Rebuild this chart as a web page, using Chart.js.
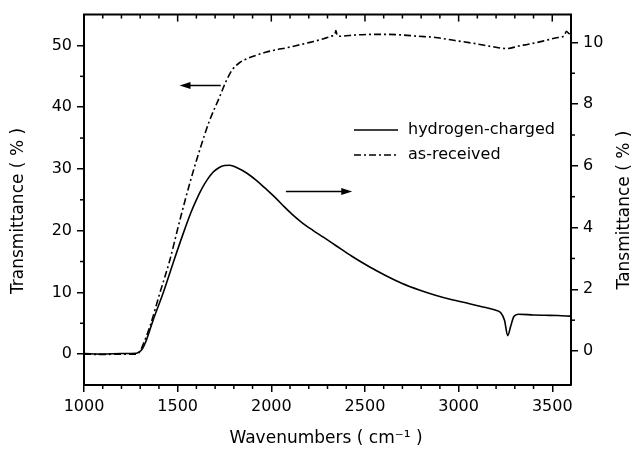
<!DOCTYPE html>
<html>
<head>
<meta charset="utf-8">
<script src="https://cdn.jsdelivr.net/npm/chart.js@4.4.1/dist/chart.umd.min.js"></script>
<style>
  html, body { margin: 0; padding: 0; background: #fff; }
</style>
</head>
<body>
<canvas id="ftirChart" width="636" height="455"></canvas>
<script>
// hydrogen-charged sample (right axis)
const hydrogenWn = [1000, 1100, 1200, 1280, 1295, 1310, 1320, 1333, 1369, 1422, 1475, 1528, 1573, 1600, 1630, 1660, 1690,
    1720, 1750, 1777, 1820, 1870, 1920, 1970, 2020, 2070, 2113, 2160, 2220, 2280, 2344, 2430, 2521, 2610, 2699,
    2790, 2876, 2960, 3053, 3130, 3195, 3225, 3245, 3262, 3278, 3295, 3319, 3400, 3461, 3530, 3600];
const hydrogenT = [-0.08, -0.1, -0.08, -0.07, -0.03, 0.06, 0.17, 0.35, 1.0, 1.87, 2.84, 3.78, 4.52, 4.90, 5.27, 5.57, 5.80,
    5.94, 6.01, 6.02, 5.93, 5.76, 5.53, 5.26, 4.98, 4.67, 4.42, 4.18, 3.92, 3.68, 3.42, 3.07, 2.74, 2.45, 2.19,
    1.98, 1.81, 1.67, 1.54, 1.43, 1.33, 1.24, 1.0, 0.5, 0.8, 1.12, 1.19, 1.17, 1.16, 1.15, 1.13];

// as-received sample (left axis)
const receivedWn = [1000, 1100, 1200, 1280, 1298, 1312, 1351, 1404, 1457, 1511, 1564, 1617, 1670, 1723, 1760, 1790,
    1830, 1880, 1918, 1970, 2025, 2078, 2150, 2220, 2280, 2320, 2340, 2345, 2352, 2370, 2450, 2540, 2620, 2699,
    2780, 2876, 2980, 3089, 3180, 3258, 3320, 3372, 3450, 3532, 3565, 3575, 3590, 3600];
const receivedT = [0, -0.05, 0, 0, 0.4, 1.3, 4.4, 9.8, 15.1, 21.6, 27.6, 33.0, 37.8, 41.6, 44.3, 46.0,
    47.2, 48.0, 48.4, 48.9, 49.3, 49.6, 50.1, 50.6, 51.1, 51.5, 51.9, 52.4, 51.6, 51.5, 51.7, 51.8, 51.8, 51.7,
    51.5, 51.3, 50.8, 50.3, 49.8, 49.5, 49.9, 50.2, 50.7, 51.3, 51.6, 52.3, 51.9, 51.7];

const xTicks = [1000, 1500, 2000, 2500, 3000, 3500];
const leftTicks = [0, 10, 20, 30, 40, 50];
const rightTicks = [0, 2, 4, 6, 8, 10];

// arrows telling which axis each curve belongs to (data units)
const leftArrow = { from: 1730, to: 1510, y: 43.5 };
const rightArrow = { from: 2078, to: 2432, y: 5.17 };

const FONT = "'DejaVu Sans', sans-serif";

function toPoints(xs, ys) {
    return xs.map((x, i) => ({ x, y: ys[i] }));
}

function drawArrow(ctx, x1, x2, y) {
    const dir = Math.sign(x2 - x1);
    ctx.beginPath();
    ctx.moveTo(x1, y);
    ctx.lineTo(x2 - dir * 8, y);
    ctx.stroke();
    ctx.beginPath();
    ctx.moveTo(x2, y);
    ctx.lineTo(x2 - dir * 11, y - 3.5);
    ctx.lineTo(x2 - dir * 11, y + 3.5);
    ctx.closePath();
    ctx.fill();
}

// frame, minor ticks, arrows, legend and axis titles
const framePlugin = {
    id: 'frame',
    afterDraw(chart) {
        const { ctx, chartArea: a, scales } = chart;
        const x = scales.x, yl = scales.y, yr = scales.y1;
        ctx.save();
        ctx.strokeStyle = '#000';
        ctx.fillStyle = '#000';

        // top frame line
        ctx.lineWidth = 2;
        ctx.beginPath();
        ctx.moveTo(a.left - 1, a.top);
        ctx.lineTo(a.right + 1, a.top);
        ctx.stroke();

        ctx.lineWidth = 1.5;
        // x ticks: minor outward at bottom, all inward at top
        for (let v = 1100; v < 3600; v += 100) {
            const px = x.getPixelForValue(v);
            const major = v % 500 === 0;
            ctx.beginPath();
            if (!major) {
                ctx.moveTo(px, a.bottom);
                ctx.lineTo(px, a.bottom + 4);
            }
            ctx.moveTo(px, a.top);
            ctx.lineTo(px, a.top + (major ? 7 : 4));
            ctx.stroke();
        }
        // left minor ticks
        for (let v = 5; v < 55; v += 10) {
            const py = yl.getPixelForValue(v);
            ctx.beginPath();
            ctx.moveTo(a.left, py);
            ctx.lineTo(a.left - 4, py);
            ctx.stroke();
        }
        // right minor ticks
        for (let v = 1; v < 11; v += 2) {
            const py = yr.getPixelForValue(v);
            ctx.beginPath();
            ctx.moveTo(a.right, py);
            ctx.lineTo(a.right + 4, py);
            ctx.stroke();
        }

        // arrows
        drawArrow(ctx, x.getPixelForValue(leftArrow.from), x.getPixelForValue(leftArrow.to), yl.getPixelForValue(leftArrow.y));
        drawArrow(ctx, x.getPixelForValue(rightArrow.from), x.getPixelForValue(rightArrow.to), yr.getPixelForValue(rightArrow.y));

        // legend
        ctx.font = '16px ' + FONT;
        ctx.textBaseline = 'middle';
        ctx.textAlign = 'left';
        chart.data.datasets.forEach((ds, i) => {
            const ly = 130 + i * 25;
            ctx.lineWidth = ds.borderWidth;
            ctx.setLineDash(ds.borderDash || []);
            ctx.beginPath();
            ctx.moveTo(354, ly);
            ctx.lineTo(398, ly);
            ctx.stroke();
            ctx.setLineDash([]);
            ctx.fillText(ds.label, 408, ly);
        });

        // axis titles
        ctx.font = '17px ' + FONT;
        ctx.textAlign = 'center';
        ctx.fillText('Wavenumbers ( cm\u207B\u00B9 )', 326, 439);
        ctx.save();
        ctx.translate(19, 211);
        ctx.rotate(-Math.PI / 2);
        ctx.fillText('Transmittance ( % )', 0, 0);
        ctx.restore();
        ctx.save();
        ctx.translate(625, 210);
        ctx.rotate(-Math.PI / 2);
        ctx.fillText('Tansmittance ( % )', 0, 0);
        ctx.restore();

        ctx.restore();
    }
};

function axisStyle(extra) {
    return Object.assign({
        grid: { display: true, drawOnChartArea: false, drawTicks: true, tickLength: 7, color: '#000', lineWidth: 1.5 },
        border: { display: true, color: '#000', width: 2 },
        ticks: { color: '#000', font: { family: FONT, size: 16 }, padding: 5, callback: v => String(v) }
    }, extra);
}

const ctx = document.getElementById('ftirChart').getContext('2d');
new Chart(ctx, {
    type: 'line',
    data: {
        datasets: [
            {
                label: 'hydrogen-charged',
                data: toPoints(hydrogenWn, hydrogenT),
                yAxisID: 'y1',
                borderColor: '#000',
                borderWidth: 1.6,
                pointRadius: 0,
                cubicInterpolationMode: 'monotone'
            },
            {
                label: 'as-received',
                data: toPoints(receivedWn, receivedT),
                yAxisID: 'y',
                borderColor: '#000',
                borderWidth: 1.6,
                borderDash: [7, 3, 2, 3],
                pointRadius: 0,
                cubicInterpolationMode: 'monotone'
            }
        ]
    },
    options: {
        responsive: false,
        animation: false,
        layout: { padding: { top: 12, left: 0, right: 0, bottom: 0 } },
        plugins: { legend: { display: false }, tooltip: { enabled: false } },
        scales: {
            x: axisStyle({
                type: 'linear', position: 'bottom', min: 1000, max: 3600,
                afterBuildTicks: s => { s.ticks = xTicks.map(v => ({ value: v })); },
                afterFit: s => { s.height = 70; }
            }),
            y: axisStyle({
                type: 'linear', position: 'left', min: -5, max: 55,
                afterBuildTicks: s => { s.ticks = leftTicks.map(v => ({ value: v })); },
                afterFit: s => { s.width = 84; }
            }),
            y1: axisStyle({
                type: 'linear', position: 'right', min: -1.1, max: 10.9,
                afterBuildTicks: s => { s.ticks = rightTicks.map(v => ({ value: v })); },
                afterFit: s => { s.width = 65; }
            })
        }
    },
    plugins: [framePlugin]
});
</script>
</body>
</html>
